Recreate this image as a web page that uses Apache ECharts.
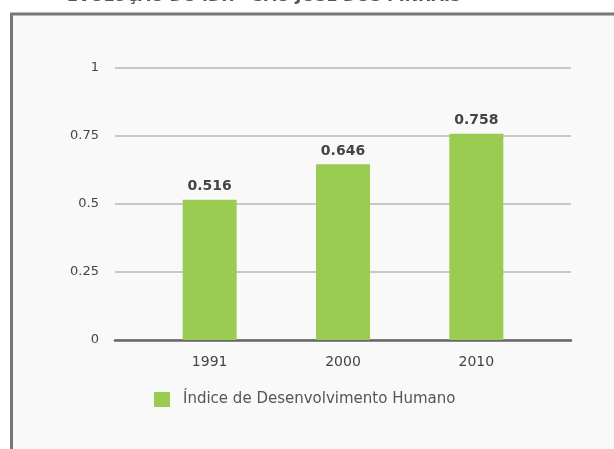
<!DOCTYPE html>
<html>
<head>
<meta charset="utf-8">
<script src="https://cdn.jsdelivr.net/npm/echarts@6/dist/echarts.min.js"></script>
<style>
  html, body { margin: 0; padding: 0; background: #fff; }
  #chart { width: 614px; height: 449px; }
</style>
</head>
<body>
<div id="chart"></div>
<script>
// dados do gráfico
const anos = ['1991', '2000', '2010'];
const idh = [0.516, 0.646, 0.758];
const yTicks = [0, 0.25, 0.5, 0.75, 1];
const serieNome = 'Índice de Desenvolvimento Humano';
const titulo = 'EVOLUÇÃO DO IDH - SÃO JOSÉ DOS PINHAIS';

const fonte = '"DejaVu Sans", sans-serif';
var myChart = echarts.init(document.getElementById('chart'));

// posições dos índices no eixo x (0, 1, 2)
const posicoes = anos.map((a, i) => i);

var option = {
    backgroundColor: '#ffffff',
    animation: false,
    title: {
        text: titulo,
        left: 62,
        top: -16,
        textStyle: {
            fontFamily: fonte,
            fontSize: 16,
            fontWeight: 'bold',
            color: '#555'
        }
    },
    graphic: [{
        type: 'rect',
        z: -10,
        shape: { x: 11.5, y: 14, width: 700, height: 500 },
        style: { fill: '#f9f9f9', stroke: '#777', lineWidth: 3 }
    }],
    legend: {
        data: [serieNome],
        left: 149,
        top: 387,
        itemWidth: 16,
        itemHeight: 15,
        icon: 'rect',
        textStyle: {
            fontFamily: fonte,
            fontSize: 15,
            color: '#555',
            padding: [0, 0, 0, 8]
        }
    },
    grid: {
        left: 115,
        right: 43,
        top: 68,
        bottom: 109
    },
    xAxis: {
        type: 'value',
        min: -0.71,
        max: 2.71,
        splitLine: { show: false },
        axisTick: { show: false },
        axisLine: {
            show: true,
            onZero: false,
            lineStyle: { color: '#666', width: 2.5 }
        },
        axisLabel: {
            customValues: posicoes,
            formatter: function (v) { return anos[Math.round(v)]; },
            fontFamily: fonte,
            fontSize: 14,
            color: '#444',
            margin: 15
        }
    },
    yAxis: {
        type: 'value',
        min: 0,
        max: 1,
        interval: 0.25,
        axisLine: { show: false },
        axisTick: { show: false },
        axisLabel: {
            fontFamily: fonte,
            fontSize: 13,
            color: '#444',
            margin: 16,
            formatter: function (v) { return yTicks.indexOf(v) >= 0 ? String(v) : ''; }
        },
        splitLine: {
            lineStyle: { color: '#c8c8c8', width: 2 }
        }
    },
    series: [{
        name: serieNome,
        type: 'bar',
        barWidth: 54,
        data: idh.map((v, i) => [i, v]),
        itemStyle: { color: '#9bcc52' },
        label: {
            show: true,
            position: 'top',
            distance: 6,
            formatter: function (p) { return p.value[1].toFixed(3); },
            fontFamily: fonte,
            fontSize: 14,
            fontWeight: 'bold',
            color: '#444'
        }
    }]
};

myChart.setOption(option);
</script>
</body>
</html>
